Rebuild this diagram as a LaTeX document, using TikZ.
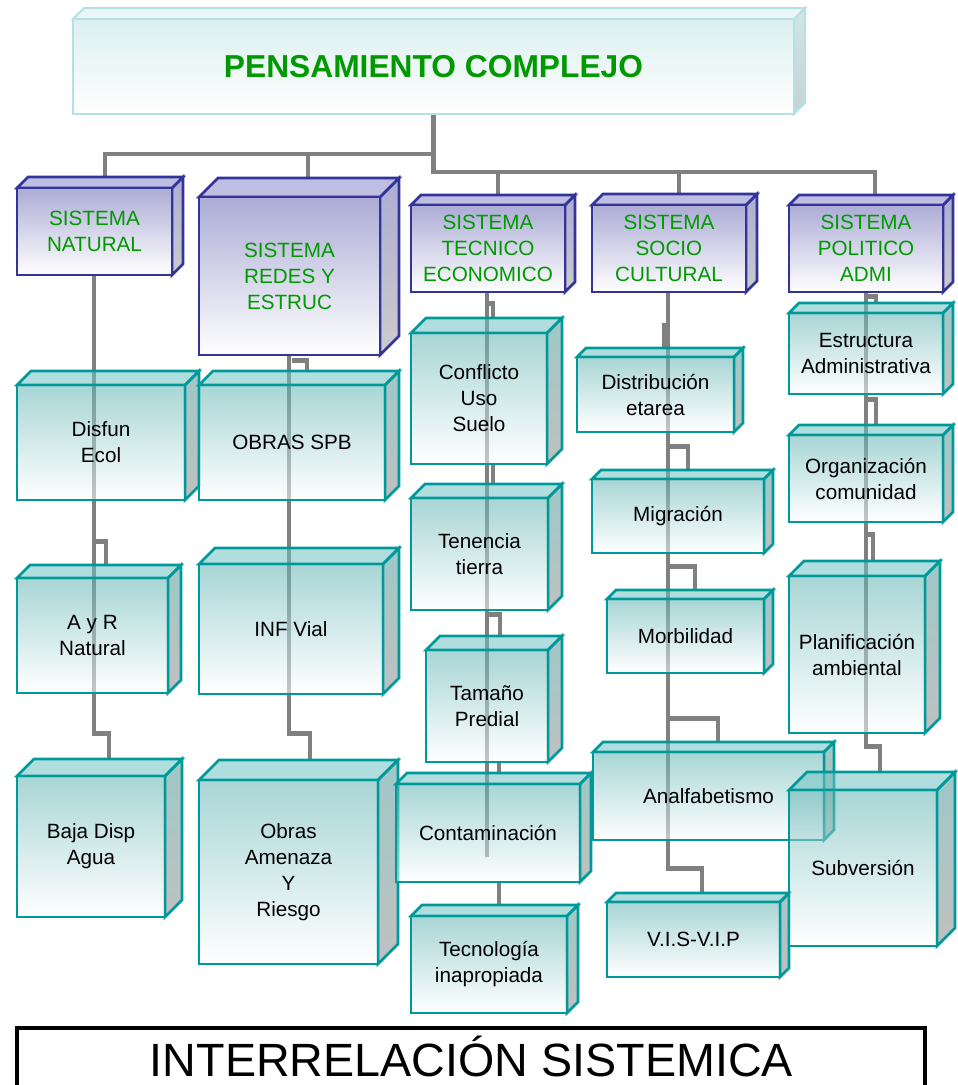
\documentclass[tikz,border=0pt]{standalone}
\usepackage{fontspec}
\setmainfont{Liberation Sans}
\usetikzlibrary{calc,backgrounds}

\definecolor{connGray}{RGB}{128,128,128}
\definecolor{tealEdge}{RGB}{0,153,153}
\definecolor{tealFront}{RGB}{97,179,179}
\definecolor{tealTop}{RGB}{111,195,195}
\definecolor{tealSideA}{RGB}{79,155,155}
\definecolor{tealSideB}{RGB}{140,140,140}
\definecolor{blueEdge}{RGB}{51,51,153}
\definecolor{blueFront}{RGB}{172,172,214}
\definecolor{blueTop}{RGB}{190,190,226}
\definecolor{blueSideA}{RGB}{172,172,212}
\definecolor{blueSideB}{RGB}{204,204,204}
\definecolor{paleEdge}{RGB}{180,225,230}
\definecolor{paleFront}{RGB}{220,239,239}
\definecolor{paleTop}{RGB}{234,245,245}
\definecolor{paleSideA}{RGB}{210,228,228}
\definecolor{paleSideB}{RGB}{200,210,210}
\definecolor{labelGreen}{RGB}{0,153,0}

\tikzset{
  conn/.style={draw=connGray, line width=3.4pt},
  lbl/.style={font=\fontsize{15.5}{19.5}\selectfont, align=center, inner sep=1pt},
  % teal boxes (semi-transparent, the lines behind show through)
  tlfront/.style={lbl, draw=tealEdge, line width=2pt, top color=tealFront, bottom color=white,
                  fill opacity=0.55, draw opacity=1, text opacity=1, text=black},
  tltop/.style={draw=tealEdge, line width=2pt, fill=tealTop, fill opacity=0.55},
  tlside/.style={draw=tealEdge, line width=2pt, top color=tealSideA, bottom color=tealSideB, fill opacity=0.55},
  % blue system boxes
  blfront/.style={lbl, draw=blueEdge, line width=2pt, top color=blueFront, bottom color=white, text=labelGreen},
  bltop/.style={draw=blueEdge, line width=2pt, fill=blueTop},
  blside/.style={draw=blueEdge, line width=2pt, top color=blueSideA, bottom color=blueSideB},
  % pale title box
  tpfront/.style={draw=paleEdge, line width=1.5pt, top color=paleFront, bottom color=white,
                  text=labelGreen, font=\bfseries\fontsize{23.8}{28}\selectfont},
  tptop/.style={draw=paleEdge, line width=1.5pt, fill=paleTop},
  tpside/.style={draw=paleEdge, line width=1.5pt, top color=paleSideA, bottom color=paleSideB},
}

% \cubebox{name}{x1}{y1}{x2}{y2}{depth}{kind}{text}
% draws a box with its side and top faces; (name) is the front face,
% (nameT) the middle of the back edge of the top face
\newcommand{\cubebox}[8]{%
  \path[#7side] (#4,#3) -- ({#4+#6},{#3-#6}) -- ({#4+#6},{#5-#6}) -- (#4,#5) -- cycle;
  \path[#7top] (#2,#3) -- ({#2+#6},{#3-#6}) -- ({#4+#6},{#3-#6}) -- (#4,#3) -- cycle;
  \node[#7front, minimum width={(#4-#2)*0.75pt}, minimum height={(#5-#3)*0.75pt}]
    (#1) at ({(#2+#4)/2},{(#3+#5)/2}) {#8};
  \coordinate (#1T) at ({(#2+#4+#6)/2},{#3-#6});
}

\begin{document}
\begin{tikzpicture}[x=0.75pt,y=-0.75pt]
\useasboundingbox (0,0) rectangle (957,1085);

% ---------- boxes ----------
\cubebox{pc}{73}{19}{794}{114}{11}{tp}{PENSAMIENTO COMPLEJO}
\cubebox{nat}{17}{188}{172}{275}{11}{bl}{SISTEMA\\NATURAL}
\cubebox{red}{199}{197}{380}{355}{19}{bl}{SISTEMA\\REDES Y\\ESTRUC}
\cubebox{tec}{411}{205}{565}{292}{10}{bl}{SISTEMA\\TECNICO\\ECONOMICO}
\cubebox{soc}{592}{205}{746}{292}{11}{bl}{SISTEMA\\SOCIO\\CULTURAL}
\cubebox{pol}{789}{205}{943}{292}{10}{bl}{SISTEMA\\POLITICO\\ADMI}
\cubebox{dis}{17}{385}{185}{500}{14}{tl}{Disfun\\Ecol}
\cubebox{obr}{199}{385}{385}{500}{14}{tl}{OBRAS SPB}
\cubebox{ayr}{17}{578}{168}{693}{13}{tl}{A y R\\Natural}
\cubebox{inf}{199}{564}{383}{694}{16}{tl}{INF Vial}
\cubebox{baj}{17}{776}{165}{917}{17}{tl}{Baja Disp\\Agua}
\cubebox{oam}{199}{780}{378}{964}{20}{tl}{Obras\\Amenaza\\Y\\Riesgo}
\cubebox{con}{411}{333}{547}{464}{15}{tl}{Conflicto\\Uso\\Suelo}
\cubebox{ten}{411}{498}{548}{610}{14}{tl}{Tenencia\\tierra}
\cubebox{tam}{426}{650}{548}{762}{14}{tl}{Tamaño\\Predial}
\cubebox{cnt}{396}{784}{580}{882}{11}{tl}{Contaminación}
\cubebox{tgy}{411}{916}{567}{1013}{11}{tl}{Tecnología\\inapropiada}
\cubebox{dst}{577}{357}{734}{432}{9}{tl}{Distribución\\etarea}
\cubebox{mig}{592}{479}{764}{553}{9}{tl}{Migración}
\cubebox{mor}{607}{599}{764}{673}{9}{tl}{Morbilidad}
\cubebox{ana}{593}{752}{824}{840}{10}{tl}{Analfabetismo}
\cubebox{vis}{607}{902}{780}{977}{9}{tl}{V.I.S-V.I.P}
\cubebox{est}{789}{313}{943}{394}{10}{tl}{Estructura\\Administrativa}
\cubebox{org}{789}{435}{943}{522}{10}{tl}{Organización\\comunidad}
\cubebox{pla}{789}{576}{925}{733}{15}{tl}{Planificación\\ambiental}
\cubebox{sub}{789}{790}{937}{946}{18}{tl}{Subversión}

% ---------- connectors, behind the boxes ----------
% x positions of the connector lines
\coordinate (dA) at (105,0);
\coordinate (dB) at (308,0);
\coordinate (dC) at (498,0);
\coordinate (dD) at (679,0);
\coordinate (dE) at (875,0);
\coordinate (xA) at (94,0);
\coordinate (xA1) at (106,0);
\coordinate (xA2) at (109,0);
\coordinate (xB) at (289,0);
\coordinate (xB1) at (307,0);
\coordinate (xB2) at (310,0);
\coordinate (xC) at (487,0);
\coordinate (xC1) at (500,0);
\coordinate (xC2) at (499,0);
\coordinate (xC3) at (493,0);
\coordinate (xD) at (668,0);
\coordinate (xD1) at (688,0);
\coordinate (xD2) at (695,0);
\coordinate (xD3) at (718,0);
\coordinate (xD4) at (702,0);
\coordinate (xD5) at (664,0);
\coordinate (xE) at (866,0);
\coordinate (xE1) at (876,0);
\coordinate (xE2) at (873,0);
\coordinate (xE3) at (880,0);

\begin{pgfonlayer}{background}
% top level
\draw[conn] (pc.south) -- ++(0,39) -| (nat.north -| dA);
\draw[conn] (pc.south) ++(0,39) -| (red.north -| dB);
\draw[conn] (pc.south) -- ++(0,57) -| (pol.north -| dE);
\draw[conn] (pc.south) ++(0,57) -| (tec.north -| dC);
\draw[conn] (pc.south) ++(0,57) -| (soc.north -| dD);

% natural system
\draw[conn] (nat.south -| xA) -- (ayr.south -| xA) -- ++(0,39) -| (bajT -| xA2);
\draw[conn] (dis.south -| xA) ++(0,40) -| (ayrT -| xA1);

% networks and structures
\draw[conn] (red.south -| xB) -- (inf.south -| xB) -- ++(0,38) -| (oamT -| xB2);
\draw[conn] (red.south -| xB) ++(3,4) -| (obrT -| xB1);

% technical-economic system
\draw[conn] (tec.south -| xC) -- (cnt.center -| xC) -- ++(0,24);
\draw[conn] (tec.south -| xC) ++(0,10) -| (conT -| xC3);
\draw[conn] (con.south -| xC3) -- (tenT -| xC3);
\draw[conn] (ten.south -| xC) ++(0,3) -| (tamT -| xC1);
\draw[conn] (tam.south -| xC2) -- (cntT -| xC2);
\draw[conn] (cnt.south -| xC2) -- (tgyT -| xC2);

% socio-cultural system
\draw[conn] (soc.south -| xD) -- (ana.south -| xD) -- ++(0,27) -| (visT -| xD4);
\draw[conn] (soc.south -| xD5) ++(0,30) -- (dstT -| xD5);
\draw[conn] (dst.south -| xD) ++(0,13) -| (migT -| xD1);
\draw[conn] (mig.south -| xD) ++(0,12) -| (morT -| xD2);
\draw[conn] (mor.south -| xD) ++(0,44) -| (anaT -| xD3);

% political-administrative system
\draw[conn] (pol.south -| xE) -- (pla.south -| xE) -- ++(0,12) -| (subT -| xE3);
\draw[conn] (pol.south -| xE) ++(0,3) -| (estT -| xE1);
\draw[conn] (est.south -| xE) ++(0,4) -| (orgT -| xE1);
\draw[conn] (org.south -| xE) ++(0,11) -| (plaT -| xE2);
\end{pgfonlayer}

% ---------- caption ----------
\node[draw=black, line width=2.5pt, minimum width={908*0.75pt}, minimum height={80*0.75pt}] (foot) at (471,1068) {};
\node[font=\fontsize{35}{40}\selectfont, anchor=base] (footlabel) at (471.5,1076) {INTERRELACIÓN SISTEMICA};
\end{tikzpicture}
\end{document}
